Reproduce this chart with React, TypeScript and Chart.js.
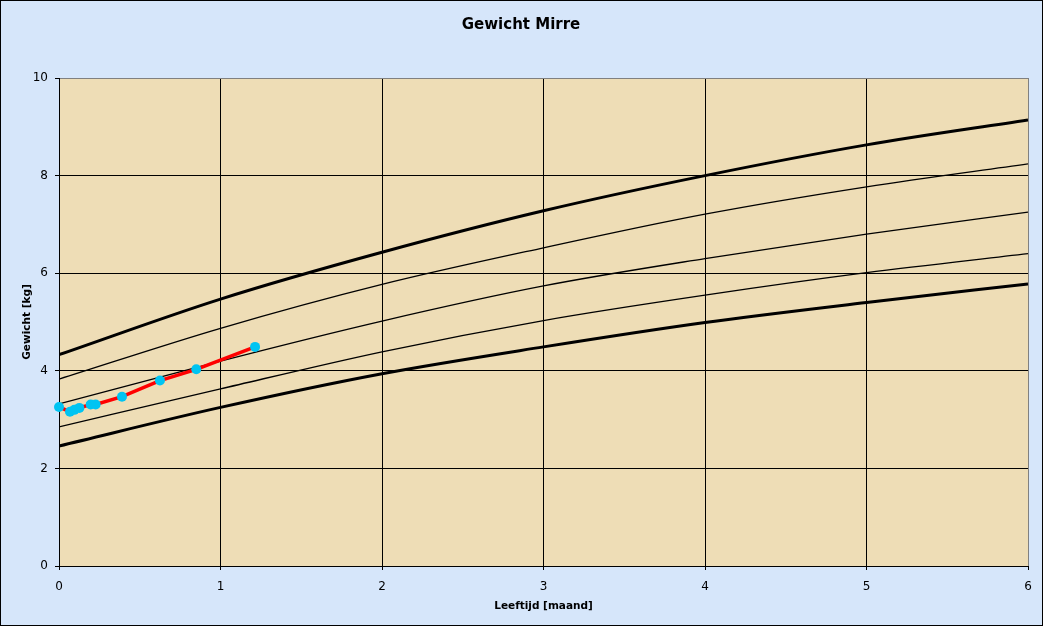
import { useEffect, useRef } from 'react';
import { Chart, registerables } from 'chart.js';
Chart.register(...registerables);

const months = [0, 1, 2, 3, 4, 5, 6];
const curveTop = [4.33, 5.47, 6.43, 7.28, 8.0, 8.63, 9.14];
const curveHigh = [3.83, 4.87, 5.77, 6.52, 7.21, 7.77, 8.24];
const curveMid = [3.32, 4.2, 5.02, 5.74, 6.3, 6.8, 7.25];
const curveLow = [2.85, 3.63, 4.39, 5.03, 5.55, 6.01, 6.4];
const curveBottom = [2.46, 3.25, 3.94, 4.49, 4.99, 5.4, 5.78];

const mirreAge = [0, 0.068, 0.095, 0.126, 0.196, 0.227, 0.39, 0.625, 0.85, 1.214];
const mirreWeight = [3.26, 3.16, 3.2, 3.24, 3.31, 3.31, 3.47, 3.8, 4.03, 4.49];

const xTicks = [0, 1, 2, 3, 4, 5, 6];
const yTicks = [0, 2, 4, 6, 8, 10];

const FONT = 'DejaVu Sans';

const toPts = (xs: number[], ys: number[]) => xs.map((x, i) => ({ x, y: ys[i] }));

const bgPlugin = {
  id: 'bgPlugin',
  beforeDraw(chart: any) {
    const { ctx, chartArea: a, width, height } = chart;
    ctx.save();
    ctx.fillStyle = '#D6E6FA';
    ctx.fillRect(0, 0, width, height);
    ctx.fillStyle = '#EEDDB6';
    ctx.fillRect(a.left, a.top, a.right - a.left, a.bottom - a.top);
    ctx.restore();
  },
  afterDraw(chart: any) {
    const { ctx, chartArea: a, width, height } = chart;
    ctx.save();
    ctx.strokeStyle = '#000';
    ctx.lineWidth = 1;
    ctx.strokeRect(0.5, 0.5, width - 1, height - 1);
    ctx.fillStyle = '#000';
    ctx.textAlign = 'center';
    ctx.textBaseline = 'middle';
    ctx.font = `bold 15px "${FONT}"`;
    ctx.fillText('Gewicht Mirre', 521, 25);
    ctx.font = `bold 10.5px "${FONT}"`;
    ctx.fillText('Leeftijd [maand]', (a.left + a.right) / 2, 606);
    ctx.translate(27, (a.top + a.bottom) / 2);
    ctx.rotate(-Math.PI / 2);
    ctx.fillText('Gewicht [kg]', 0, 0);
    ctx.restore();
  },
};

export default function App() {
  const ref = useRef<HTMLCanvasElement>(null);
  useEffect(() => {
    document.body.style.margin = '0';
    const thick = (d: number[]) => ({
      data: toPts(months, d),
      borderColor: '#000',
      borderWidth: 3,
      pointRadius: 0,
      cubicInterpolationMode: 'monotone' as const,
    });
    const thin = (d: number[]) => ({
      data: toPts(months, d),
      borderColor: '#000',
      borderWidth: 1.3,
      pointRadius: 0,
      cubicInterpolationMode: 'monotone' as const,
    });
    const chart = new Chart(ref.current!, {
      type: 'line',
      data: {
        datasets: [
          {
            data: toPts(mirreAge, mirreWeight),
            borderColor: '#FF0000',
            borderWidth: 3.5,
            pointRadius: 5,
            pointBackgroundColor: '#00C4F2',
            pointBorderWidth: 0,
            tension: 0,
            clip: false,
          } as any,
          thick(curveTop),
          thin(curveHigh),
          thin(curveMid),
          thin(curveLow),
          thick(curveBottom),
        ],
      },
      options: {
        responsive: false,
        animation: false,
        layout: { padding: { top: 78, right: 15, left: 0, bottom: 0 } },
        plugins: { legend: { display: false }, title: { display: false }, tooltip: { enabled: false } },
        scales: {
          x: {
            type: 'linear',
            min: 0,
            max: 6,
            afterFit: (s: any) => { s.height = 60; },
            afterBuildTicks: (s: any) => { s.ticks = xTicks.map((v) => ({ value: v })); },
            ticks: { color: '#000', font: { family: FONT, size: 12 }, padding: 10, maxRotation: 0 },
            grid: {
              color: (c: any) => (c.tick && c.tick.value === 6 ? '#808080' : '#000'),
              lineWidth: 1,
              tickLength: 4,
              tickColor: '#000',
            },
            border: { display: true, color: '#000', width: 1 },
          },
          y: {
            min: 0,
            max: 10,
            afterFit: (s: any) => { s.width = 59; },
            afterBuildTicks: (s: any) => { s.ticks = yTicks.map((v) => ({ value: v })); },
            ticks: { color: '#000', font: { family: FONT, size: 12 }, padding: 7 },
            grid: {
              color: (c: any) => (c.tick && c.tick.value === 10 ? '#808080' : '#000'),
              lineWidth: 1,
              tickLength: 4,
              tickColor: '#000',
            },
            border: { display: true, color: '#000', width: 1 },
          },
        },
      },
      plugins: [bgPlugin],
    });
    return () => chart.destroy();
  }, []);
  return (
    <div style={{ width: 1043, height: 626 }}>
      <canvas ref={ref} width={1043} height={626} style={{ display: 'block' }} />
    </div>
  );
}
